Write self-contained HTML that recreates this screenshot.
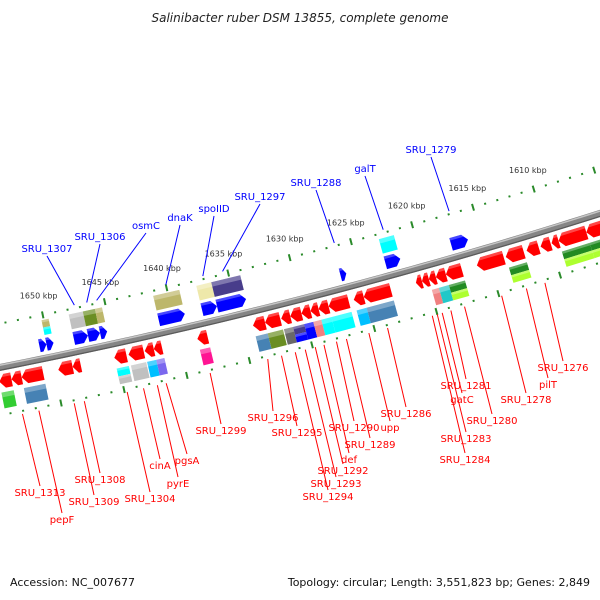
<!DOCTYPE html>
<html><head><meta charset="utf-8"><style>
html,body{margin:0;padding:0;background:#fff;}
svg{display:block;font-family:"DejaVu Sans","Liberation Sans",sans-serif;}
</style></head><body>
<svg id="chart" width="600" height="600" viewBox="0 0 600 600" xmlns="http://www.w3.org/2000/svg">
<rect width="600" height="600" fill="#fff"/>
<text x="300" y="22" text-anchor="middle" font-size="12" font-style="italic" fill="#222">Salinibacter ruber DSM 13855, complete genome</text>
<g id="ticks"></g>
<g id="backbone"></g>
<g id="genes"></g>
<g id="labels"></g>
<text x="10" y="586" font-size="11" fill="#111">Accession: NC_007677</text>
<text x="590" y="586" text-anchor="end" font-size="11" fill="#111">Topology: circular; Length: 3,551,823 bp; Genes: 2,849</text>
</svg>
<script>
// ---- data (kbp) ----
const fwdStart = [1650.75,1650.18,1647.99,1646.85,1645.88,1641.17,1637.68,1636.47,1626.48,1622.83,1617.47];
const fwdEnd   = [1650.18,1649.61,1646.85,1645.88,1645.31,1639.06,1636.47,1634.12,1626.00,1621.61,1616.09];
const fwdCog   = ["","khaki|cyan","silver","olive","khaki","khaki","pale","slate","","cyan",""];
const revStart = [1654.38,1653.41,1652.60,1649.68,1648.54,1645.21,1644.07,1642.78,1642.05,1638.56,1634.09,1633.12,1631.82,1631.09,1630.19,1629.46,1628.81,1628.00,1625.97,1625.16,1620.94,1620.45,1619.89,1619.32,1618.51,1615.99,1613.64,1611.94,1610.80,1609.90,1609.33,1607.06];
const revEnd   = [1653.41,1652.60,1650.89,1648.54,1647.89,1644.24,1642.86,1642.05,1641.40,1637.74,1633.12,1631.90,1631.09,1630.19,1629.46,1628.81,1628.00,1626.38,1625.16,1622.97,1620.45,1619.89,1619.32,1618.51,1617.21,1613.80,1612.18,1610.96,1609.98,1609.33,1607.06,1604.87];
const revCog   = ["lime","","steel","","","cyan|silver","silver","sky","violet","pink","steel","olive","gray","slate|blue","blue","coral","cyan","cyan","sky","steel","","","coral","teal","green|ygreen","","green|ygreen","","","","green|ygreen","green|ygreen"];
const tickFirst = 1602, tickLast = 1655;
const tickLabelMin = 1610, tickLabelMax = 1650;
const labelNames = ["SRU_1307","SRU_1306","osmC","dnaK","spoIID","SRU_1297","SRU_1288","galT","SRU_1279"];
const labelK     = [1647.4,1646.4,1645.6,1640.0,1637.0,1635.4,1626.3,1622.3,1616.9];
const rLabelNames = ["SRU_1313","pepF","SRU_1309","SRU_1308","SRU_1304","cinA","pyrE","pgsA","SRU_1299","SRU_1296","SRU_1295","SRU_1294","SRU_1293","SRU_1292","def","SRU_1290","SRU_1289","upp","SRU_1286","SRU_1284","SRU_1283","gatC","SRU_1281","SRU_1280","SRU_1278","pilT","SRU_1276"];
const rLabelK     = [1653.1,1651.8,1649.0,1648.2,1644.8,1643.5,1642.4,1641.7,1638.2,1633.6,1632.5,1631.4,1630.6,1629.8,1629.1,1628.1,1627.3,1625.5,1624.0,1620.4,1620.0,1619.6,1618.9,1617.8,1614.8,1612.8,1611.3];
// ---- layout ----
const labelPos = [[47,252],[100,240],[146,229],[180,221],[214,212],[260,200],[316,186],[365,172],[431,153]];
const rLabelPos = [[40,496],[62,523],[94,505],[100,483],[150,502],[160,469],[178,487],[187,464],[221,434],[273,421],[297,436],[328,500],[336,487],[343,474],[349,463],[354,431],[370,448],[390,431],[406,417],[465,463],[466,442],[462,403],[466,389],[492,424],[526,403],[548,388],[563,371]];
const COLORS = {khaki:"#bdb76b",pale:"#eee8aa",olive:"#6b8e23",silver:"#c0c0c0",slate:"#483d8b",cyan:"#00ffff",lime:"#32cd32",steel:"#4682b4",sky:"#00bfff",violet:"#7b68ee",pink:"#ff1493",gray:"#696969",blue:"#0000ff",coral:"#f08080",teal:"#20c8c8",green:"#228b22",ygreen:"#adff2f"};
const CX=-1069, CY=-5044, R=5516;
function P(k,d){const a=(78.28-(1650-k)*0.1327)*Math.PI/180;const r=R+d;return [CX+r*Math.cos(a),CY+r*Math.sin(a)];}
const NS="http://www.w3.org/2000/svg";
function mk(tag,parent){const e=document.createElementNS(NS,tag);parent.appendChild(e);return e;}
function pts(a){return a.map(p=>p[0].toFixed(2)+","+p[1].toFixed(2)).join(" ");}
// ticks
const tg=document.getElementById("ticks");
for(let k=tickFirst;k<=tickLast;k++){
  for(const d of [-43,47]){
    const big=k%5===0, h=big?3.5:1;
    const a=P(k,d-h), b=P(k,d+h);
    const l=mk("line",tg);
    
    
    l.setAttribute("x1",a[0]);l.setAttribute("y1",a[1]);l.setAttribute("x2",b[0]);l.setAttribute("y2",b[1]);
    l.setAttribute("stroke","#2a8a2a");l.setAttribute("stroke-width","2");
  }
  if(k%5===0 && k>=tickLabelMin && k<=tickLabelMax){
    const p=P(k,-63);const t=mk("text",tg);
    
    
    t.setAttribute("x",p[0]);t.setAttribute("y",p[1]+3);t.setAttribute("text-anchor","middle");
    t.setAttribute("font-size","8");t.setAttribute("fill","#333");t.textContent=k+" kbp";
  }
}
// backbone
const bg=document.getElementById("backbone");
function arcLine(d,col,w,name){const a=[];for(let k=1600;k<=1660;k+=1)a.push(P(k,d));const pl=mk("polyline",bg);
  
  
  pl.setAttribute("points",pts(a));pl.setAttribute("fill","none");pl.setAttribute("stroke",col);pl.setAttribute("stroke-width",w);}
arcLine(0,"#858585",7,"backbone-line");
arcLine(-2.2,"#c4c4c4",1.5,"backbone-highlight");
arcLine(2.8,"#5a5a5a",1.2,"backbone-shadow");
// genes
const gg=document.getElementById("genes");
function poly(a,fill,name){const p=mk("polygon",gg);
  
  
  p.setAttribute("points",pts(a));p.setAttribute("fill",fill);return p;}
function arrow(k1,k2,d0,d1,fwd,col,name){
  const hi=Math.max(k1,k2),lo=Math.min(k1,k2);const h=Math.min(0.42,(hi-lo)*0.6);const m=(d0+d1)/2;
  let a;
  if(fwd)a=[P(hi,d0),P(lo+h,d0),P(lo,m),P(lo+h,d1),P(hi,d1)];
  else a=[P(lo,d0),P(hi-h,d0),P(hi,m),P(hi-h,d1),P(lo,d1)];
  poly(a,col,name);
  let b;
  if(fwd)b=[P(hi,d0),P(lo+h,d0),P(lo+h*0.6,d0+(m-d0)*0.4),P(hi,d0+(m-d0)*0.4)];
  else b=[P(lo,d0),P(hi-h,d0),P(hi-h*0.6,d0+(m-d0)*0.4),P(lo,d0+(m-d0)*0.4)];
  poly(b,"rgba(255,255,255,0.28)",name+"-shade");
}
function cogBox(k1,k2,d0,d1,cog,name){
  const parts=cog.split("|");const n=parts.length;const hi=Math.max(k1,k2),lo=Math.min(k1,k2);
  parts.forEach((c,i)=>{const a=d0+(d1-d0)*i/n,b=d0+(d1-d0)*(i+1)/n;
    poly([P(hi,a),P(lo,a),P(lo,b),P(hi,b)],COLORS[c],name);
    poly([P(hi,a),P(lo,a),P(lo,a+(b-a)*0.3),P(hi,a+(b-a)*0.3)],"rgba(255,255,255,0.3)",name+"-shade");});
}
fwdStart.forEach((s,i)=>{arrow(s,fwdEnd[i],-20,-7,true,"#0000ff","forward-gene");
  if(fwdCog[i])cogBox(s,fwdEnd[i],-38,-23,fwdCog[i],"forward-cog-box");});
revStart.forEach((s,i)=>{arrow(s,revEnd[i],7,21,false,"#ff0000","reverse-gene");
  if(revCog[i])cogBox(s,revEnd[i],25,41,revCog[i],"reverse-cog-box");});
// labels
const lg=document.getElementById("labels");
function label(name,k,pos,d,col,nm){
  const p=P(k,d);const l=mk("line",lg);
  
  
  const ty=d<0?pos[1]+4:pos[1]-10;
  l.setAttribute("x1",p[0]);l.setAttribute("y1",p[1]);l.setAttribute("x2",pos[0]);l.setAttribute("y2",ty);
  l.setAttribute("stroke",col);l.setAttribute("stroke-width","1");
  const t=mk("text",lg);
  
  
  t.setAttribute("x",pos[0]);t.setAttribute("y",pos[1]);t.setAttribute("text-anchor","middle");
  t.setAttribute("font-size","10");t.setAttribute("fill",col);t.textContent=name;
}
labelNames.forEach((n,i)=>label(n,labelK[i],labelPos[i],-46,"#0000ff","forward-gene-label"));
rLabelNames.forEach((n,i)=>label(n,rLabelK[i],rLabelPos[i],50,"#ff0000","reverse-gene-label"));
</script>
</body></html>
